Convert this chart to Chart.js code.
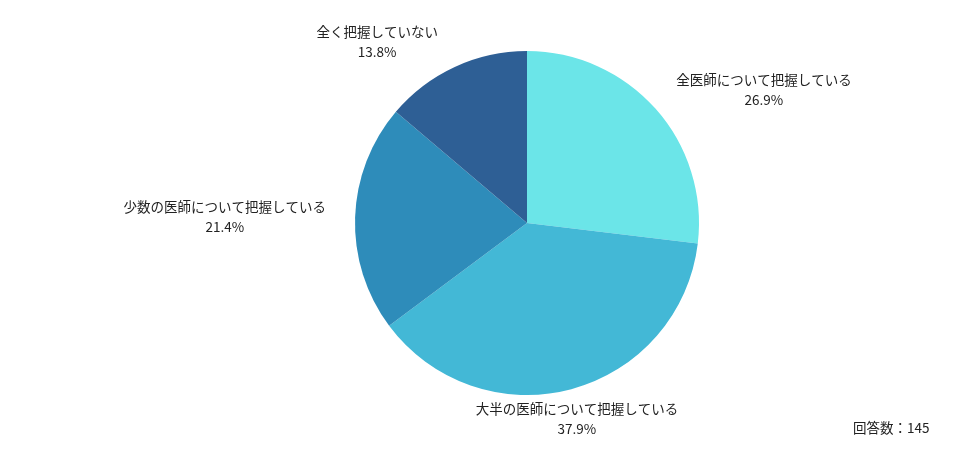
<!DOCTYPE html>
<html>
<head>
<meta charset="utf-8">
<script src="https://cdn.jsdelivr.net/npm/chart.js@4"></script>
<style>
  body { margin: 0; background: #fff; }
  #wrap { width: 976px; height: 459px; position: relative; }
  #note { position: absolute; left: 853px; top: 417px; font: 13.5px "Noto Sans CJK JP"; color: #222; }
</style>
</head>
<body>
<div id="wrap"><canvas id="pie" width="976" height="459"></canvas><div id="note">回答数：145</div></div>
<script>
// categories and shares (%)
let labels = ["全医師について把握している", "大半の医師について把握している", "少数の医師について把握している", "全く把握していない"]
let values = [26.9, 37.9, 21.4, 13.8]
let colors = ["#6be5e8", "#43b8d6", "#2e8cba", "#2e5f95"]

// labels outside the slices, two lines each
const outsideLabels = {
  id: "outsideLabels",
  afterDatasetsDraw(chart) {
    const c = chart.ctx
    const meta = chart.getDatasetMeta(0)
    c.save()
    c.font = '13.5px "Noto Sans CJK JP"'
    c.fillStyle = "#222"
    c.textBaseline = "middle"
    meta.data.forEach((arc, i) => {
      const mid = (arc.startAngle + arc.endAngle) / 2
      const r = arc.outerRadius + 14
      const s = Math.cos(mid), k = Math.sin(mid)
      const ax = arc.x + r * s
      const ay = arc.y + r * k
      const lines = [labels[i], values[i].toFixed(1) + "%"]
      const w = Math.max(...lines.map(t => c.measureText(t).width))
      let cx, cy
      if (s > 0.3) { cx = ax + 10 + w / 2; cy = ay + k * 14 }
      else if (s < -0.3) { cx = ax - 8 + s * 7 - w / 2; cy = ay + k * 14 }
      else { cx = ax + 2; cy = k > 0 ? ay + 16 : ay - 16 }
      c.textAlign = "center"
      c.fillText(lines[0], cx, cy - 10)
      c.fillText(lines[1], cx, cy + 10)
    })
    c.restore()
  }
}

new Chart(document.getElementById("pie"), {
  type: "pie",
  data: {
    labels: labels,
    datasets: [{
      data: values,
      backgroundColor: colors,
      borderWidth: 0
    }]
  },
  options: {
    responsive: false,
    animation: false,
    layout: { padding: { top: 51, bottom: 64, left: 183, right: 105 } },
    plugins: { legend: { display: false }, tooltip: { enabled: false } }
  },
  plugins: [outsideLabels]
})
</script>
</body>
</html>
